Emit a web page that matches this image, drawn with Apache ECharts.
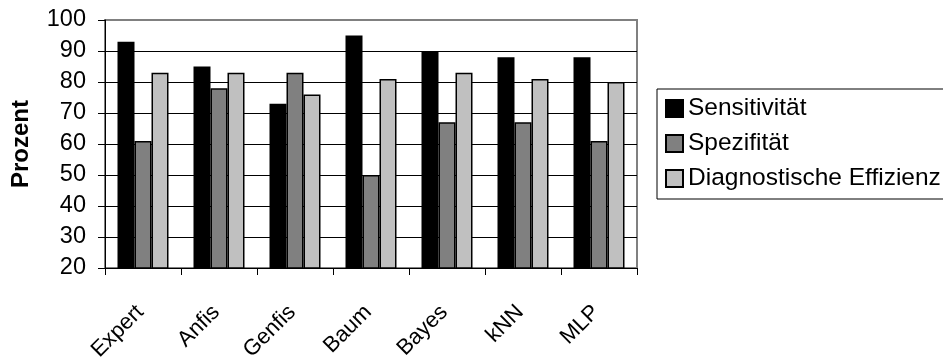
<!DOCTYPE html>
<html>
<head>
<meta charset="utf-8">
<script src="https://cdn.jsdelivr.net/npm/echarts@6/dist/echarts.min.js"></script>
<style>
  html, body { margin: 0; padding: 0; background: #fff; }
  #chart { width: 943px; height: 357px; }
</style>
</head>
<body>
<div id="chart"></div>
<script>
// Classifier comparison: sensitivity, specificity and diagnostic efficiency (%)
const categories = ['Expert', 'Anfis', 'Genfis', 'Baum', 'Bayes', 'kNN', 'MLP'];
const sensitivitaet = [93, 85, 73, 95, 90, 88, 88];
const spezifitaet = [61, 78, 83, 50, 67, 67, 61];
const effizienz = [83, 83, 76, 81, 83, 81, 80];
const seriesNames = ['Sensitivität', 'Spezifität', 'Diagnostische Effizienz'];
const seriesColors = ['#000000', '#808080', '#c0c0c0'];

const FONT = 'Liberation Sans, Arial, sans-serif';
const chart = echarts.init(document.getElementById('chart'), null, { renderer: 'canvas' });

const seriesData = [sensitivitaet, spezifitaet, effizienz];
const series = seriesData.map((vals, i) => ({
  name: seriesNames[i],
  type: 'bar',
  data: vals,
  barWidth: 17,
  barGap: '0%',
  itemStyle: {
    color: seriesColors[i],
    borderColor: '#000',
    borderWidth: 1.5
  },
  emphasis: { disabled: true }
}));

chart.setOption({
  animation: false,
  backgroundColor: '#fff',
  textStyle: { fontFamily: FONT },
  grid: {
    left: 105, top: 20, width: 532, height: 248,
    outerBoundsMode: 'none',
    containLabel: false,
    show: true,
    borderColor: '#808080',
    borderWidth: 2,
    backgroundColor: 'transparent'
  },
  legend: {
    orient: 'vertical',
    left: 657,
    top: 89,
    padding: [7, 12, 8, 8],
    itemWidth: 17,
    itemHeight: 17,
    itemGap: 10,
    borderColor: '#000',
    borderWidth: 1,
    icon: 'rect',
    textStyle: { fontSize: 24.5, color: '#000', fontFamily: FONT },
    data: seriesNames
  },
  xAxis: {
    type: 'category',
    data: categories,
    axisLine: { show: true, lineStyle: { color: '#000', width: 1 } },
    axisTick: { show: true, alignWithLabel: false, length: 7, lineStyle: { color: '#000' } },
    axisLabel: {
      rotate: 45,
      margin: 38,
      padding: [0, 4, 0, 0],
      fontSize: 22,
      color: '#000',
      fontFamily: FONT,
      interval: 0
    },
    splitLine: { show: false }
  },
  yAxis: {
    type: 'value',
    min: 20,
    max: 100,
    interval: 10,
    name: 'Prozent',
    nameLocation: 'middle',
    nameRotate: 90,
    nameGap: 72,
    nameTextStyle: { fontSize: 24, fontWeight: 'bold', color: '#000', fontFamily: FONT },
    axisLine: { show: true, lineStyle: { color: '#000', width: 1 } },
    axisTick: { show: true, length: 7, lineStyle: { color: '#000' } },
    axisLabel: { fontSize: 23.5, color: '#000', margin: 19, fontFamily: FONT },
    splitLine: { show: true, showMaxLine: false, lineStyle: { color: '#000', width: 1 } }
  },
  series: series
});
</script>
</body>
</html>
